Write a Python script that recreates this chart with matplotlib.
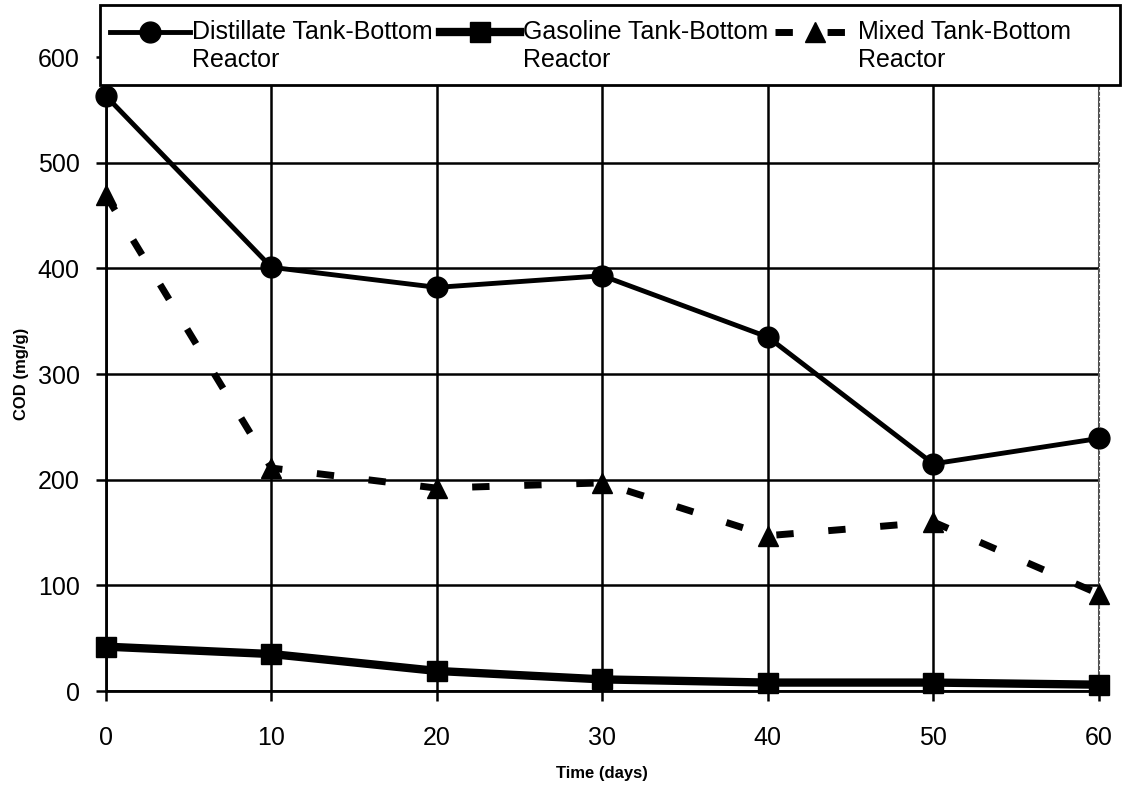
import matplotlib.pyplot as plt
from matplotlib.legend_handler import HandlerLine2D
from matplotlib.patches import Rectangle
from matplotlib.transforms import Affine2D

# COD of tank-bottom sludge in the three reactors over time
days = [0, 10, 20, 30, 40, 50, 60]
distillate_cod = [563, 401, 382, 393, 335, 215, 239]
gasoline_cod = [42, 35, 19, 11, 8, 8, 6]
mixed_cod = [469, 211, 192, 197, 147, 160, 92]

plt.rcParams['font.family'] = ['Liberation Sans', 'DejaVu Sans']


class FirstLineHandler(HandlerLine2D):
    # put the legend sample next to the first line of a two-line label
    def create_artists(self, legend, orig_handle, xdescent, ydescent,
                       width, height, fontsize, trans):
        trans = Affine2D().translate(0, 0.6 * fontsize) + trans
        return super().create_artists(legend, orig_handle, xdescent, ydescent,
                                      width, height, fontsize, trans)


fig = plt.figure(figsize=(11.23, 7.92), dpi=100)
ax = fig.add_axes([0.0944, 0.1275, 0.884, 0.8005])

ax.plot(days, distillate_cod, color='black', lw=3.5, marker='o', ms=15,
        label='Distillate Tank-Bottom\nReactor', zorder=5, clip_on=False)
ax.plot(days, gasoline_cod, color='black', lw=6, marker='s', ms=14,
        label='Gasoline Tank-Bottom\nReactor', zorder=5, clip_on=False)
ax.plot(days, mixed_cod, color='black', lw=5, ls=(0, (2.5, 5)), marker='^', ms=15,
        label='Mixed Tank-Bottom\nReactor', zorder=5, clip_on=False)

ax.set_xlim(0, 60)
ax.set_ylim(0, 600)
ax.set_xticks(days)
ax.set_yticks(range(0, 601, 100))
ax.grid(True, color='black', lw=1.8)
ax.set_axisbelow(True)
ax.tick_params(axis='both', direction='out', length=7, width=1.8,
               labelsize=18, pad=12)
ax.tick_params(axis='x', pad=18)

for side in ['left', 'bottom']:
    ax.spines[side].set_linewidth(2)
ax.spines['top'].set_visible(False)
ax.spines['right'].set_color('#555555')
ax.spines['right'].set_linestyle(':')
ax.spines['right'].set_linewidth(1.5)

ax.set_xlabel('Time (days)', fontsize=12, fontweight='bold', labelpad=12)
ax.set_ylabel('COD (mg/g)', fontsize=12, fontweight='bold', labelpad=6)

# legend box across the top, sitting over the upper edge of the plot
box = Rectangle((0.089, 0.893), 0.908, 0.101, transform=fig.transFigure,
                facecolor='white', edgecolor='black', lw=2, zorder=9)
fig.patches.append(box)

leg = fig.legend(loc='upper left', bbox_to_anchor=(0.091, 0.984),
                 ncol=3, fontsize=18, frameon=False, handlelength=3.2,
                 handletextpad=0.1, borderaxespad=0, borderpad=0.3,
                 labelspacing=0.2, columnspacing=0.3,
                 handler_map={plt.Line2D: FirstLineHandler()})
leg.set_zorder(10)

fig.savefig('out.png', dpi=100, facecolor='white')
